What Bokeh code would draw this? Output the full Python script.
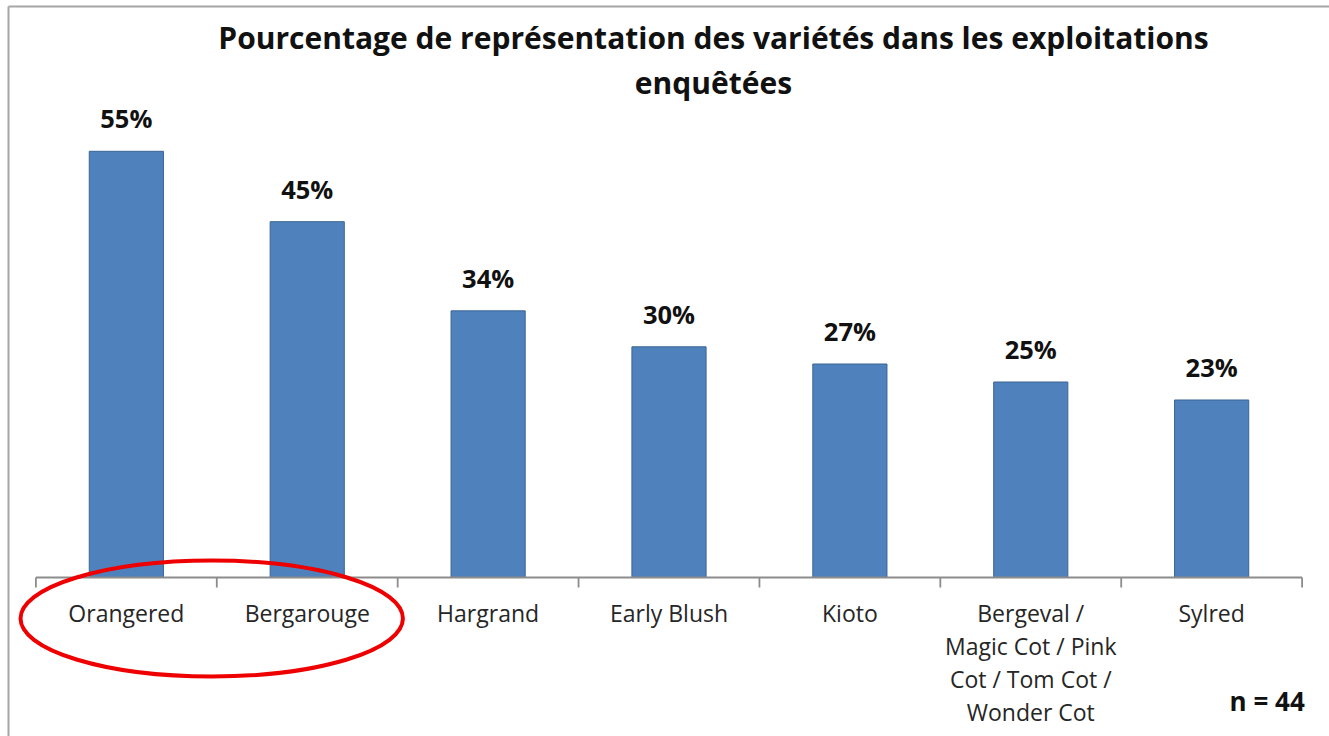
from bokeh.plotting import figure
from bokeh.models import ColumnDataSource, FactorRange, Range1d, LinearAxis, FixedTicker
from bokeh.core.properties import value
from bokeh.embed import file_html
from bokeh.resources import INLINE

# ---- data ----
categories = ["Orangered", "Bergarouge", "Hargrand", "Early Blush", "Kioto",
              "Bergeval / Magic Cot / Pink Cot / Tom Cot / Wonder Cot", "Sylred"]
tick_labels = ["Orangered", "Bergarouge", "Hargrand", "Early Blush", "Kioto",
               "Bergeval /\nMagic Cot / Pink\nCot / Tom Cot /\nWonder Cot", "Sylred"]
percent = [54.5, 45.5, 34.1, 29.5, 27.3, 25.0, 22.7]
percent_labels = ["55%", "45%", "34%", "30%", "27%", "25%", "23%"]
title_lines = ["Pourcentage de représentation des variétés dans les exploitations", "enquêtées"]
n_text = "n = 44"

FONT = "Open Sans"
PX_PER_UNIT_Y = 7.82          # pixels per percent point
BASE = 577                    # pixel row of the value axis zero
PAD = 0.1515                  # category padding (absolute units)
Y0, Y1 = -159 / PX_PER_UNIT_Y, 571 / PX_PER_UNIT_Y


def ypix(py):
    """page pixel row -> data y"""
    return (BASE - py) / PX_PER_UNIT_Y


p = figure(width=1329, height=736,
           x_range=FactorRange(factors=categories, range_padding=PAD, range_padding_units="absolute"),
           y_range=Range1d(Y0, Y1),
           output_backend="svg", toolbar_location=None,
           x_axis_location=None, y_axis_location=None,
           min_border_left=8, min_border_top=6, min_border_right=0, min_border_bottom=0)
p.outline_line_color = None
p.background_fill_color = "white"
p.border_fill_color = "white"
for g in p.grid:
    g.visible = False


def border_axis():
    ax = LinearAxis(ticker=FixedTicker(ticks=[], minor_ticks=[]))
    ax.axis_line_color = "#a6a6a6"
    ax.axis_line_width = 2
    ax.major_tick_line_color = None
    ax.minor_tick_line_color = None
    ax.major_tick_out = 0
    ax.major_tick_in = 0
    ax.minor_tick_out = 0
    ax.minor_tick_in = 0
    ax.major_label_standoff = 0
    return ax


# frame borders (left / top) drawn as bare axis lines
p.add_layout(border_axis(), "left")
p.add_layout(border_axis(), "above")

src = ColumnDataSource(dict(cat=categories, val=percent, lab=percent_labels,
                            laby=[v + 33 / PX_PER_UNIT_Y for v in percent]))

# bars
p.vbar(x="cat", top="val", bottom=0, width=0.41, source=src,
       fill_color="#4F81BD", line_color="#3A6594", line_width=1)

# value labels
p.text(x="cat", y="laby", text="lab", source=src, text_align="center",
       text_baseline="middle",
       text_font=value(FONT), text_font_style="bold", text_font_size="25.5px",
       text_color="#111111")

# category axis line and boundary ticks
p.segment(x0=[(categories[0], -0.5)], y0=[0], x1=[(categories[-1], 0.5)], y1=[0],
          line_color="#8c8c8c", line_width=1.8)
tick_x = [(c, -0.5) for c in categories] + [(categories[-1], 0.5)]
p.segment(x0=tick_x, y0=[0] * len(tick_x), x1=tick_x, y1=[ypix(587)] * len(tick_x),
          line_color="#8c8c8c", line_width=1.8)

# category labels (one text item per line)
lx, ly, lt = [], [], []
for c, lab in zip(categories, tick_labels):
    for i, line in enumerate(lab.split("\n")):
        lx.append(c)
        ly.append(ypix(612 + 33 * i))
        lt.append(line)
p.text(x=lx, y=ly, text=lt, text_align="center", text_baseline="middle",
       text_font=value(FONT), text_font_size="23px", text_color="#262626")

# title
for i, line in enumerate(title_lines):
    p.text(x=[("Early Blush", 0.246)], y=[ypix(37 + 45 * i)], text=[line],
           text_align="center", text_baseline="middle",
           text_font=value(FONT), text_font_style="bold", text_font_size="30px",
           text_color="#111111")

# n = 44
p.text(x=[(categories[-1], 0.515)], y=[ypix(700)], text=[n_text],
       text_align="right", text_baseline="middle",
       text_font=value(FONT), text_font_style="bold", text_font_size="26px",
       text_color="#111111")

# highlight ellipse
p.ellipse(x=[("Bergarouge", -0.528)], y=[ypix(618)], width=2.114, height=116 / PX_PER_UNIT_Y,
          fill_color=None, line_color="#EE0000", line_width=4)

open("out.html", "w").write(file_html(p, INLINE))
